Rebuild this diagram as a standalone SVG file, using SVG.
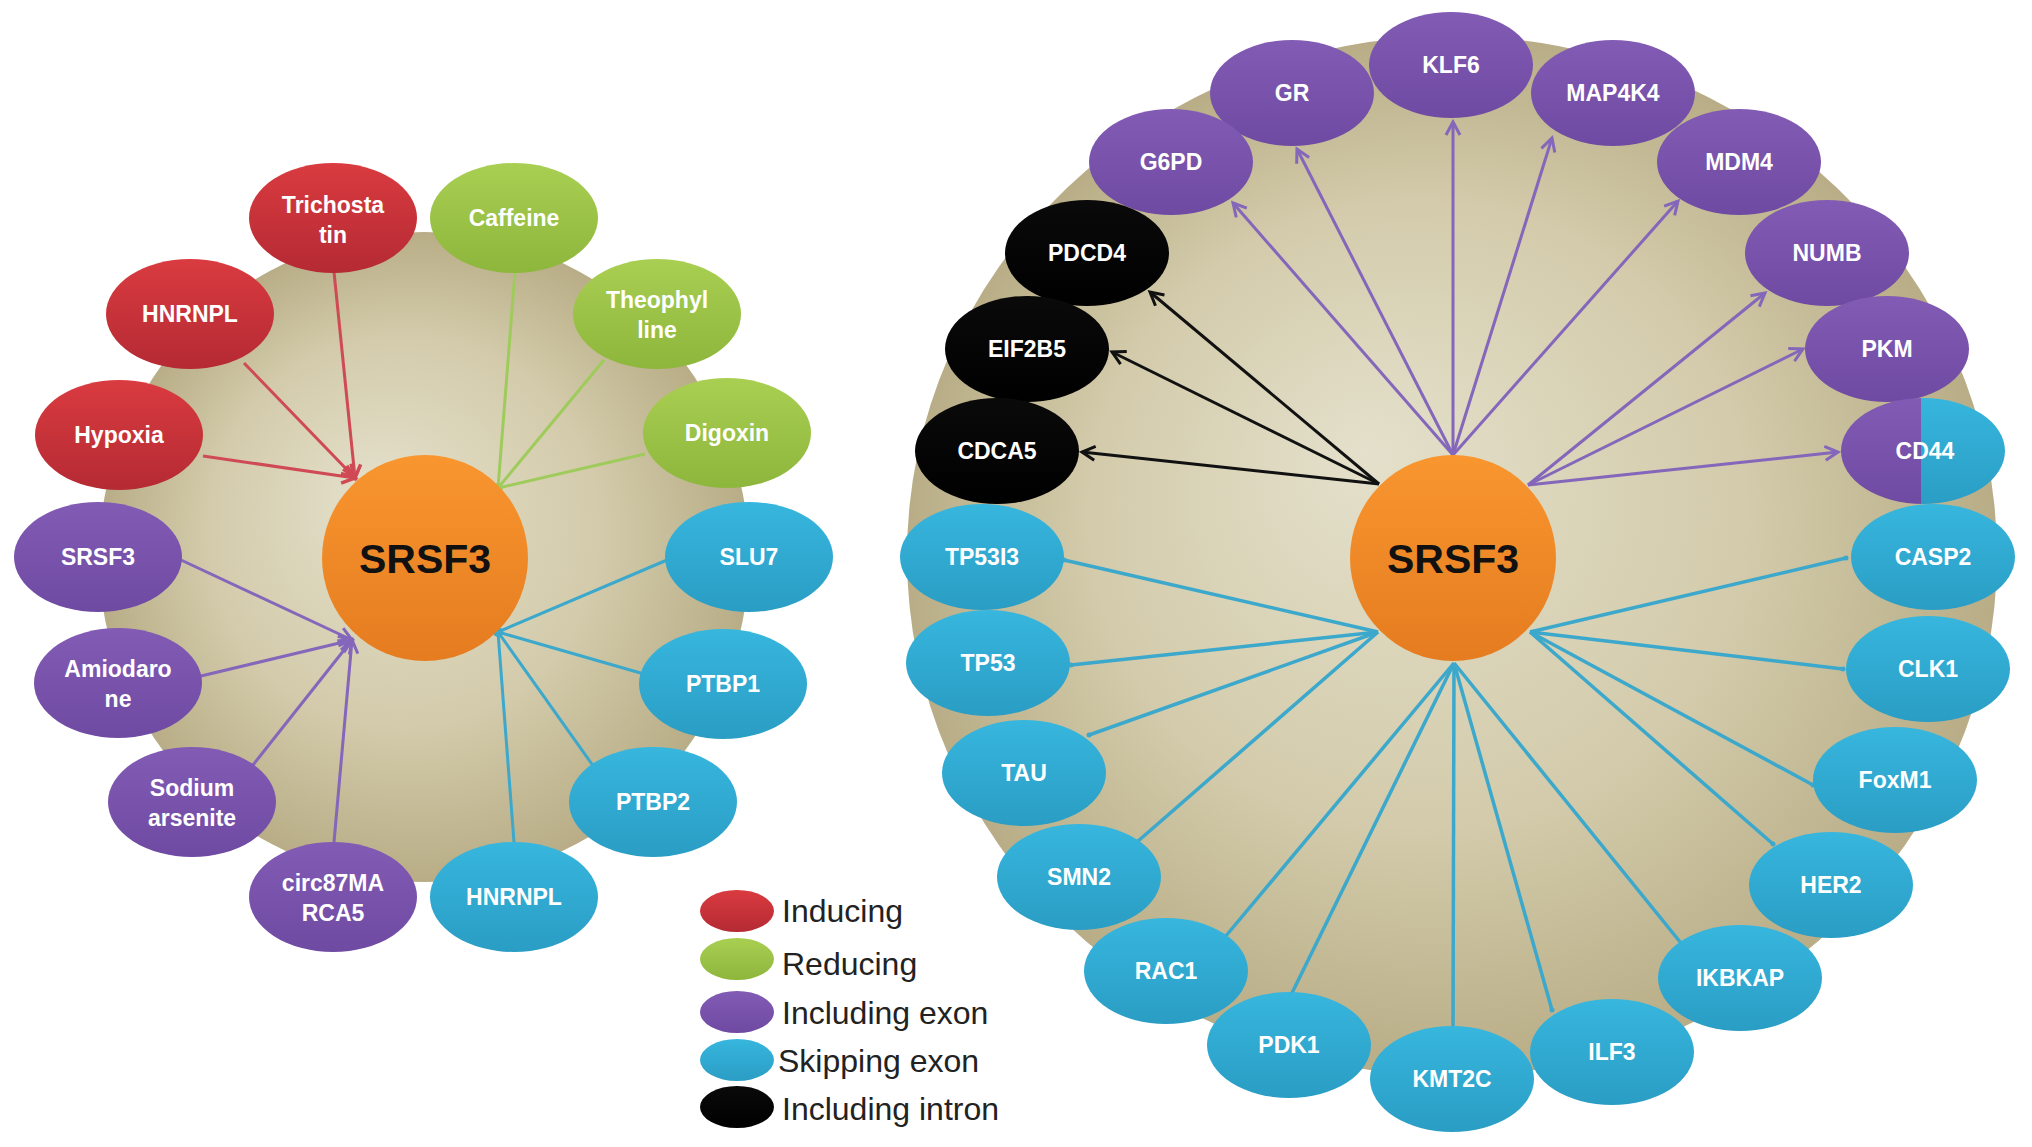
<svg xmlns="http://www.w3.org/2000/svg" width="2032" height="1147" viewBox="0 0 2032 1147">
<defs>
  <radialGradient id="tan" cx="50%" cy="50%" r="50%" fx="42%" fy="40%">
    <stop offset="0" stop-color="#e4e0cb"/>
    <stop offset="0.6" stop-color="#d3cbab"/>
    <stop offset="1" stop-color="#b8ad86"/>
  </radialGradient>
  <linearGradient id="gRed" x1="0" y1="0" x2="0" y2="1">
    <stop offset="0" stop-color="#d93b40"/><stop offset="1" stop-color="#b52a33"/>
  </linearGradient>
  <linearGradient id="gGreen" x1="0" y1="0" x2="0" y2="1">
    <stop offset="0" stop-color="#a9cf52"/><stop offset="1" stop-color="#8db63c"/>
  </linearGradient>
  <linearGradient id="gPurple" x1="0" y1="0" x2="0" y2="1">
    <stop offset="0" stop-color="#825bb4"/><stop offset="1" stop-color="#6f4aa2"/>
  </linearGradient>
  <linearGradient id="gBlue" x1="0" y1="0" x2="0" y2="1">
    <stop offset="0" stop-color="#37b6de"/><stop offset="1" stop-color="#2a9dc4"/>
  </linearGradient>
  <linearGradient id="gBlack" x1="0" y1="0" x2="0" y2="1">
    <stop offset="0" stop-color="#0a0a0a"/><stop offset="1" stop-color="#000"/>
  </linearGradient>
  <linearGradient id="gOrange" x1="0" y1="0" x2="0" y2="1">
    <stop offset="0" stop-color="#f9962f"/><stop offset="1" stop-color="#e57c20"/>
  </linearGradient>
  <clipPath id="cdClip"><ellipse cx="1923" cy="451" rx="82" ry="53"/></clipPath>
  <marker id="aRed" markerUnits="userSpaceOnUse" markerWidth="20" markerHeight="20" refX="15" refY="9" orient="auto">
    <path d="M2,2 L15,9 L2,16" fill="none" stroke="#cf4a55" stroke-width="3.5"/>
  </marker>
  <marker id="aPurple" markerUnits="userSpaceOnUse" markerWidth="20" markerHeight="20" refX="15" refY="9" orient="auto">
    <path d="M2,2 L15,9 L2,16" fill="none" stroke="#8466bb" stroke-width="3"/>
  </marker>
  <marker id="aBlack" markerUnits="userSpaceOnUse" markerWidth="20" markerHeight="20" refX="15" refY="9" orient="auto">
    <path d="M2,2 L15,9 L2,16" fill="none" stroke="#111" stroke-width="3"/>
  </marker>
  <marker id="dBlue" markerUnits="userSpaceOnUse" markerWidth="8" markerHeight="8" refX="4" refY="4">
    <circle cx="4" cy="4" r="2.5" fill="#3ba8cc"/>
  </marker>
</defs>
<style>
  .lbl { font-family: "Liberation Sans", Arial, sans-serif; font-weight: bold; font-size: 23px; fill: #ffffff; text-anchor: middle; }
  .hub { font-family: "Liberation Sans", Arial, sans-serif; font-weight: bold; font-size: 41px; fill: #111; text-anchor: middle; }
  .leg { font-family: "Liberation Sans", Arial, sans-serif; font-size: 32px; fill: #222; }
  .red { fill: url(#gRed); }
  .green { fill: url(#gGreen); }
  .purple { fill: url(#gPurple); }
  .blue { fill: url(#gBlue); }
  .black { fill: url(#gBlack); }
  .lr { stroke: #cf4a55; stroke-width: 3; fill: none; marker-end: url(#aRed); }
  .lg { stroke: #9fcb5c; stroke-width: 3; fill: none; }
  .lp { stroke: #8466bb; stroke-width: 3; fill: none; marker-end: url(#aPurple); }
  .lb { stroke: #3ba8cc; stroke-width: 3; fill: none; }
  .lbr { stroke: #3ba8cc; stroke-width: 3.5; fill: none; marker-end: url(#dBlue); }
  .lk { stroke: #111; stroke-width: 3; fill: none; marker-end: url(#aBlack); }
</style>
<rect width="2032" height="1147" fill="#ffffff"/>

<!-- background discs -->
<circle id="bgLeft" cx="424" cy="557" r="325" fill="url(#tan)"/>
<ellipse id="bgRight" cx="1452" cy="556" rx="545" ry="520" fill="url(#tan)"/>

<!-- connectors -->
<g id="connectors">
  <!-- left: inducing -->
  <line class="lr" x1="334" y1="272" x2="355" y2="478"/>
  <line class="lr" x1="244" y1="363" x2="355" y2="478"/>
  <line class="lr" x1="203" y1="456" x2="355" y2="478"/>
  <!-- left: reducing -->
  <line class="lg" x1="515" y1="272" x2="498" y2="488"/>
  <line class="lg" x1="604" y1="360" x2="498" y2="488"/>
  <line class="lg" x1="645" y1="454" x2="498" y2="488"/>
  <circle cx="498" cy="488" r="5" fill="#9fcb5c"/>
  <!-- left: including exon -->
  <line class="lp" x1="181" y1="560" x2="352" y2="640"/>
  <line class="lp" x1="201" y1="676" x2="352" y2="640"/>
  <line class="lp" x1="253" y1="765" x2="352" y2="640"/>
  <line class="lp" x1="334" y1="842" x2="352" y2="640"/>
  <!-- left: skipping exon -->
  <line class="lb" x1="667" y1="560" x2="498" y2="632"/>
  <line class="lb" x1="644" y1="674" x2="498" y2="632"/>
  <line class="lb" x1="594" y1="767" x2="498" y2="632"/>
  <line class="lb" x1="514" y1="842" x2="498" y2="632"/>
  <circle cx="498" cy="632" r="5" fill="#3ba8cc"/>

  <!-- right: including exon -->
  <line class="lp" x1="1453" y1="455" x2="1233" y2="203"/>
  <line class="lp" x1="1453" y1="455" x2="1297" y2="149"/>
  <line class="lp" x1="1453" y1="455" x2="1453" y2="122"/>
  <line class="lp" x1="1453" y1="455" x2="1552" y2="138"/>
  <line class="lp" x1="1453" y1="455" x2="1678" y2="201"/>
  <line class="lp" x1="1528" y1="485" x2="1765" y2="293"/>
  <line class="lp" x1="1528" y1="485" x2="1803" y2="349"/>
  <line class="lp" x1="1528" y1="485" x2="1838" y2="452"/>
  <!-- right: including intron -->
  <line class="lk" x1="1379" y1="484" x2="1150" y2="292"/>
  <line class="lk" x1="1379" y1="484" x2="1112" y2="352"/>
  <line class="lk" x1="1379" y1="484" x2="1082" y2="452"/>
  <!-- right: skipping exon -->
  <line class="lbr" x1="1378" y1="632" x2="1064" y2="560"/>
  <line class="lbr" x1="1378" y1="632" x2="1071" y2="665"/>
  <line class="lbr" x1="1378" y1="632" x2="1089" y2="735"/>
  <line class="lbr" x1="1378" y1="632" x2="1137" y2="842"/>
  <line class="lbr" x1="1454" y1="663" x2="1225" y2="937"/>
  <line class="lbr" x1="1454" y1="663" x2="1291" y2="995"/>
  <line class="lbr" x1="1454" y1="663" x2="1453" y2="1028"/>
  <line class="lbr" x1="1454" y1="663" x2="1552" y2="1010"/>
  <line class="lbr" x1="1454" y1="663" x2="1685" y2="948"/>
  <line class="lbr" x1="1530" y1="632" x2="1846" y2="558"/>
  <line class="lbr" x1="1530" y1="632" x2="1843" y2="669"/>
  <line class="lbr" x1="1530" y1="632" x2="1813" y2="785"/>
  <line class="lbr" x1="1530" y1="632" x2="1773" y2="844"/>
</g>

<!-- left hub -->
<g id="hubLeft"><circle cx="425" cy="558" r="103" fill="url(#gOrange)"/><text class="hub" x="425" y="573">SRSF3</text></g>

<!-- left nodes -->
<g id="L_trichostatin"><ellipse class="red" cx="333" cy="218" rx="84" ry="55"/><text class="lbl" x="333" y="213">Trichosta</text><text class="lbl" x="333" y="243">tin</text></g>
<g id="L_caffeine"><ellipse class="green" cx="514" cy="218" rx="84" ry="55"/><text class="lbl" x="514" y="226">Caffeine</text></g>
<g id="L_hnrnpl_red"><ellipse class="red" cx="190" cy="314" rx="84" ry="55"/><text class="lbl" x="190" y="322">HNRNPL</text></g>
<g id="L_theophylline"><ellipse class="green" cx="657" cy="314" rx="84" ry="55"/><text class="lbl" x="657" y="308">Theophyl</text><text class="lbl" x="657" y="338">line</text></g>
<g id="L_hypoxia"><ellipse class="red" cx="119" cy="435" rx="84" ry="55"/><text class="lbl" x="119" y="443">Hypoxia</text></g>
<g id="L_digoxin"><ellipse class="green" cx="727" cy="433" rx="84" ry="55"/><text class="lbl" x="727" y="441">Digoxin</text></g>
<g id="L_srsf3"><ellipse class="purple" cx="98" cy="557" rx="84" ry="55"/><text class="lbl" x="98" y="565">SRSF3</text></g>
<g id="L_slu7"><ellipse class="blue" cx="749" cy="557" rx="84" ry="55"/><text class="lbl" x="749" y="565">SLU7</text></g>
<g id="L_amiodarone"><ellipse class="purple" cx="118" cy="683" rx="84" ry="55"/><text class="lbl" x="118" y="677">Amiodaro</text><text class="lbl" x="118" y="707">ne</text></g>
<g id="L_ptbp1"><ellipse class="blue" cx="723" cy="684" rx="84" ry="55"/><text class="lbl" x="723" y="692">PTBP1</text></g>
<g id="L_sodium"><ellipse class="purple" cx="192" cy="802" rx="84" ry="55"/><text class="lbl" x="192" y="796">Sodium</text><text class="lbl" x="192" y="826">arsenite</text></g>
<g id="L_ptbp2"><ellipse class="blue" cx="653" cy="802" rx="84" ry="55"/><text class="lbl" x="653" y="810">PTBP2</text></g>
<g id="L_circ"><ellipse class="purple" cx="333" cy="897" rx="84" ry="55"/><text class="lbl" x="333" y="891">circ87MA</text><text class="lbl" x="333" y="921">RCA5</text></g>
<g id="L_hnrnpl_blue"><ellipse class="blue" cx="514" cy="897" rx="84" ry="55"/><text class="lbl" x="514" y="905">HNRNPL</text></g>

<!-- right hub -->
<g id="hubRight"><circle cx="1453" cy="558" r="103" fill="url(#gOrange)"/><text class="hub" x="1453" y="573">SRSF3</text></g>

<!-- right nodes -->
<g id="R_klf6"><ellipse class="purple" cx="1451" cy="65" rx="82" ry="53"/><text class="lbl" x="1451" y="73">KLF6</text></g>
<g id="R_gr"><ellipse class="purple" cx="1292" cy="93" rx="82" ry="53"/><text class="lbl" x="1292" y="101">GR</text></g>
<g id="R_map4k4"><ellipse class="purple" cx="1613" cy="93" rx="82" ry="53"/><text class="lbl" x="1613" y="101">MAP4K4</text></g>
<g id="R_g6pd"><ellipse class="purple" cx="1171" cy="162" rx="82" ry="53"/><text class="lbl" x="1171" y="170">G6PD</text></g>
<g id="R_mdm4"><ellipse class="purple" cx="1739" cy="162" rx="82" ry="53"/><text class="lbl" x="1739" y="170">MDM4</text></g>
<g id="R_pdcd4"><ellipse class="black" cx="1087" cy="253" rx="82" ry="53"/><text class="lbl" x="1087" y="261">PDCD4</text></g>
<g id="R_numb"><ellipse class="purple" cx="1827" cy="253" rx="82" ry="53"/><text class="lbl" x="1827" y="261">NUMB</text></g>
<g id="R_eif2b5"><ellipse class="black" cx="1027" cy="349" rx="82" ry="53"/><text class="lbl" x="1027" y="357">EIF2B5</text></g>
<g id="R_pkm"><ellipse class="purple" cx="1887" cy="349" rx="82" ry="53"/><text class="lbl" x="1887" y="357">PKM</text></g>
<g id="R_cdca5"><ellipse class="black" cx="997" cy="451" rx="82" ry="53"/><text class="lbl" x="997" y="459">CDCA5</text></g>
<g id="R_cd44">
  <g clip-path="url(#cdClip)">
    <rect x="1838" y="395" width="83" height="112" fill="url(#gPurple)"/>
    <rect x="1921" y="395" width="90" height="112" fill="url(#gBlue)"/>
  </g>
  <text class="lbl" x="1925" y="459">CD44</text>
</g>
<g id="R_tp53i3"><ellipse class="blue" cx="982" cy="557" rx="82" ry="53"/><text class="lbl" x="982" y="565">TP53I3</text></g>
<g id="R_casp2"><ellipse class="blue" cx="1933" cy="557" rx="82" ry="53"/><text class="lbl" x="1933" y="565">CASP2</text></g>
<g id="R_tp53"><ellipse class="blue" cx="988" cy="663" rx="82" ry="53"/><text class="lbl" x="988" y="671">TP53</text></g>
<g id="R_clk1"><ellipse class="blue" cx="1928" cy="669" rx="82" ry="53"/><text class="lbl" x="1928" y="677">CLK1</text></g>
<g id="R_tau"><ellipse class="blue" cx="1024" cy="773" rx="82" ry="53"/><text class="lbl" x="1024" y="781">TAU</text></g>
<g id="R_foxm1"><ellipse class="blue" cx="1895" cy="780" rx="82" ry="53"/><text class="lbl" x="1895" y="788">FoxM1</text></g>
<g id="R_smn2"><ellipse class="blue" cx="1079" cy="877" rx="82" ry="53"/><text class="lbl" x="1079" y="885">SMN2</text></g>
<g id="R_her2"><ellipse class="blue" cx="1831" cy="885" rx="82" ry="53"/><text class="lbl" x="1831" y="893">HER2</text></g>
<g id="R_rac1"><ellipse class="blue" cx="1166" cy="971" rx="82" ry="53"/><text class="lbl" x="1166" y="979">RAC1</text></g>
<g id="R_ikbkap"><ellipse class="blue" cx="1740" cy="978" rx="82" ry="53"/><text class="lbl" x="1740" y="986">IKBKAP</text></g>
<g id="R_pdk1"><ellipse class="blue" cx="1289" cy="1045" rx="82" ry="53"/><text class="lbl" x="1289" y="1053">PDK1</text></g>
<g id="R_ilf3"><ellipse class="blue" cx="1612" cy="1052" rx="82" ry="53"/><text class="lbl" x="1612" y="1060">ILF3</text></g>
<g id="R_kmt2c"><ellipse class="blue" cx="1452" cy="1079" rx="82" ry="53"/><text class="lbl" x="1452" y="1087">KMT2C</text></g>

<!-- legend -->
<g id="legend">
  <ellipse class="red" cx="737" cy="911" rx="37" ry="21"/><text class="leg" x="782" y="922">Inducing</text>
  <ellipse class="green" cx="737" cy="959" rx="37" ry="21"/><text class="leg" x="782" y="975">Reducing</text>
  <ellipse class="purple" cx="737" cy="1012" rx="37" ry="21"/><text class="leg" x="782" y="1024">Including exon</text>
  <ellipse class="blue" cx="737" cy="1060" rx="37" ry="21"/><text class="leg" x="778" y="1072">Skipping exon</text>
  <ellipse class="black" cx="737" cy="1107" rx="37" ry="21"/><text class="leg" x="782" y="1120">Including intron</text>
</g>
</svg>
